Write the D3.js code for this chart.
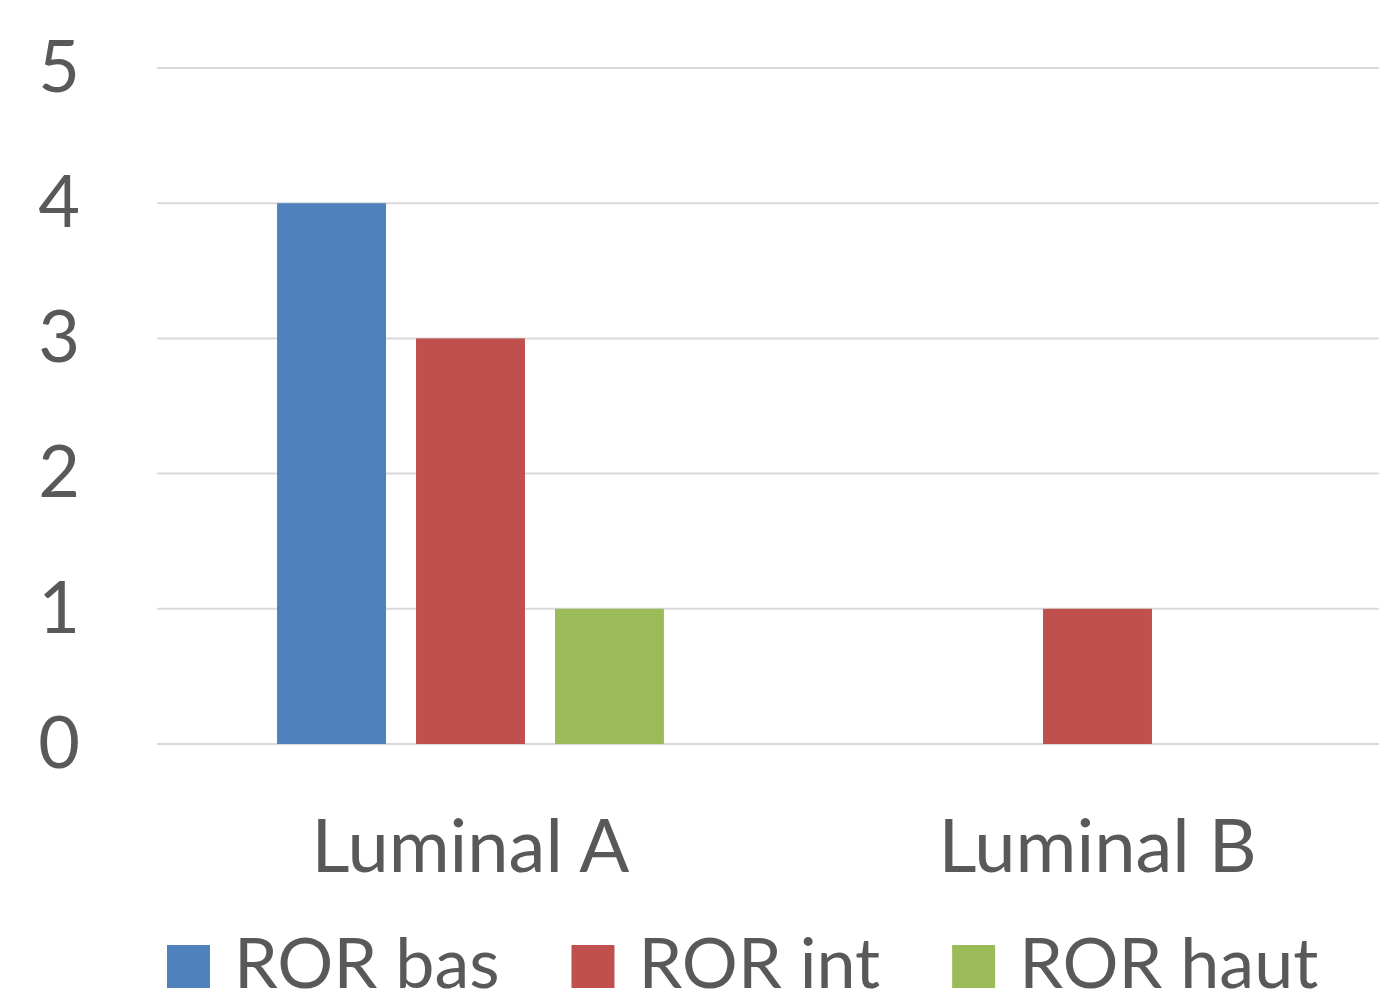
<!DOCTYPE html>
<html lang="fr">
<head>
    <meta charset="UTF-8">
    <title>ROR par sous-type</title>
    <script src="https://d3js.org/d3.v7.min.js"></script>
    <style>
        body {
            margin: 0;
            padding: 0;
            background: #fff;
        }
        svg text {
            font-family: Lato, "Open Sans", sans-serif;
            fill: #595959;
        }
    </style>
</head>
<body>
    <svg width="1379" height="998"></svg>

    <script>
        const categories = ["Luminal A", "Luminal B"];
        const seriesNames = ["ROR bas", "ROR int", "ROR haut"];
        const rorBas = [4, 0];
        const rorInt = [3, 1];
        const rorHaut = [1, 0];
        const yTicks = [0, 1, 2, 3, 4, 5];

        const colors = ["#4f81bd", "#c0504d", "#9bbb59"];
        const seriesValues = [rorBas, rorInt, rorHaut];

        const data = categories.map((c, i) => ({
            category: c,
            values: seriesNames.map((s, j) => ({ series: s, value: seriesValues[j][i] }))
        }));

        const svg = d3.select("svg");
        const plotLeft = 157, plotRight = 1379, plotTop = 68, plotBottom = 744;

        // the plot area runs past the right edge of the picture
        const x0 = d3.scaleBand()
            .domain(categories)
            .range([plotLeft, 1411])
            .paddingInner(0.383)
            .paddingOuter(0.1915);

        const x1 = d3.scaleBand()
            .domain(seriesNames)
            .range([0, x0.bandwidth()])
            .paddingInner(0.216);

        const y = d3.scaleLinear()
            .domain([0, 5])
            .range([plotBottom, plotTop]);

        const color = d3.scaleOrdinal().domain(seriesNames).range(colors);

        // gridlines
        svg.append("g")
            .selectAll("line")
            .data(yTicks)
            .enter()
            .append("line")
            .attr("x1", plotLeft)
            .attr("x2", plotRight)
            .attr("y1", d => y(d))
            .attr("y2", d => y(d))
            .attr("stroke", "#d9d9d9")
            .attr("stroke-width", 2);

        // y tick labels
        svg.append("g")
            .selectAll("text")
            .data(yTicks)
            .enter()
            .append("text")
            .attr("x", 80)
            .attr("y", d => y(d))
            .attr("dy", "0.33em")
            .attr("text-anchor", "end")
            .style("font-size", "72px")
            .text(d => d);

        // bars
        svg.append("g")
            .selectAll("g")
            .data(data)
            .enter()
            .append("g")
            .attr("transform", d => `translate(${x0(d.category)},0)`)
            .selectAll("rect")
            .data(d => d.values.filter(v => v.value > 0))
            .enter()
            .append("rect")
            .attr("x", d => x1(d.series))
            .attr("width", x1.bandwidth())
            .attr("y", d => y(d.value))
            .attr("height", d => y(0) - y(d.value))
            .attr("fill", d => color(d.series));

        // category labels
        svg.append("g")
            .selectAll("text")
            .data(categories)
            .enter()
            .append("text")
            .attr("x", d => x0(d) + x0.bandwidth() / 2)
            .attr("y", 872)
            .attr("text-anchor", "middle")
            .style("font-size", "74px")
            .text(d => d);

        // legend (cut by the bottom edge, as in the original)
        const legend = svg.append("g");
        let lx = 167;
        seriesNames.forEach(function(s) {
            legend.append("rect")
                .attr("x", lx)
                .attr("y", 945)
                .attr("width", 43)
                .attr("height", 43)
                .attr("fill", color(s));
            const t = legend.append("text")
                .attr("x", lx + 67)
                .attr("y", 988)
                .style("font-size", "70px")
                .text(s);
            lx = lx + 67 + t.node().getComputedTextLength() + 72;
        });
    </script>
</body>
</html>
